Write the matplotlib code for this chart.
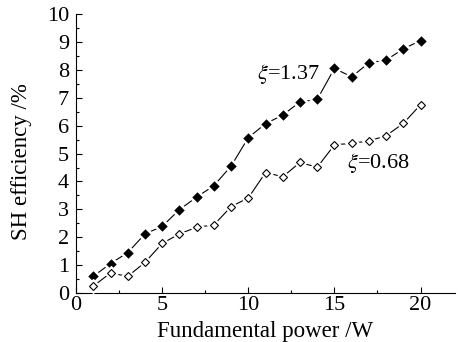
import matplotlib
matplotlib.use("Agg")
import matplotlib.pyplot as plt
from matplotlib.ticker import MultipleLocator

power = [1, 2, 3, 4, 5, 6, 7, 8, 9, 10, 11, 12, 13, 14, 15, 16, 17, 18, 19, 20]
eff_137 = [0.60, 1.06, 1.45, 2.12, 2.39, 2.99, 3.44, 3.85, 4.55, 5.57,
           6.07, 6.38, 6.85, 6.94, 8.05, 7.75, 8.25, 8.35, 8.75, 9.05]
eff_068 = [0.25, 0.72, 0.60, 1.10, 1.78, 2.12, 2.36, 2.44, 3.10, 3.41,
           4.32, 4.17, 4.68, 4.51, 5.31, 5.37, 5.45, 5.64, 6.08, 6.75]

plt.rcParams['font.family'] = ['Liberation Serif', 'DejaVu Serif']
plt.rcParams['mathtext.fontset'] = 'stix'

fig = plt.figure(figsize=(4.61, 3.42), dpi=100)
ax = fig.add_axes([0.165, 0.143, 0.822, 0.816])

# line underneath, white-edged markers on top to mimic the gaps
ax.plot(power, eff_137, color='black', lw=0.8, zorder=2)
ax.plot(power, eff_137, ls='none', marker='D', ms=7, mfc='black',
        mec='white', mew=1.8, zorder=3)
ax.plot(power, eff_068, color='black', lw=0.8, zorder=2)
ax.plot(power, eff_068, ls='none', marker='D', ms=5.8, mfc='white',
        mec='white', mew=1.8, zorder=3)
ax.plot(power, eff_068, ls='none', marker='D', ms=4.3, mfc='white',
        mec='black', mew=0.8, zorder=4)

ax.text(10.5, 7.85, r'$\xi$=1.37', fontsize=16, va='center', ha='left')
ax.text(15.75, 4.66, r'$\xi$=0.68', fontsize=16, va='center', ha='left')

ax.set_xlim(0, 22)
ax.set_ylim(0, 10)
ax.xaxis.set_major_locator(MultipleLocator(5))
ax.xaxis.set_minor_locator(MultipleLocator(2.5))
ax.yaxis.set_major_locator(MultipleLocator(1))
ax.yaxis.set_minor_locator(MultipleLocator(0.5))
ax.tick_params(which='both', direction='in', labelsize=16, width=0.8)
ax.tick_params(which='major', length=4)
ax.tick_params(which='minor', length=2)
ax.tick_params(axis='x', pad=2)
ax.tick_params(axis='y', pad=5)
ax.spines['top'].set_visible(False)
ax.spines['right'].set_visible(False)

ax.set_xlabel('Fundamental power /W', fontsize=16.5)
ax.set_ylabel('SH efficiency /%', fontsize=16.5)
ax.xaxis.set_label_coords(0.5, -0.1)
ax.yaxis.set_label_coords(-0.116, 0.47)

fig.savefig('out.png', dpi=100)
